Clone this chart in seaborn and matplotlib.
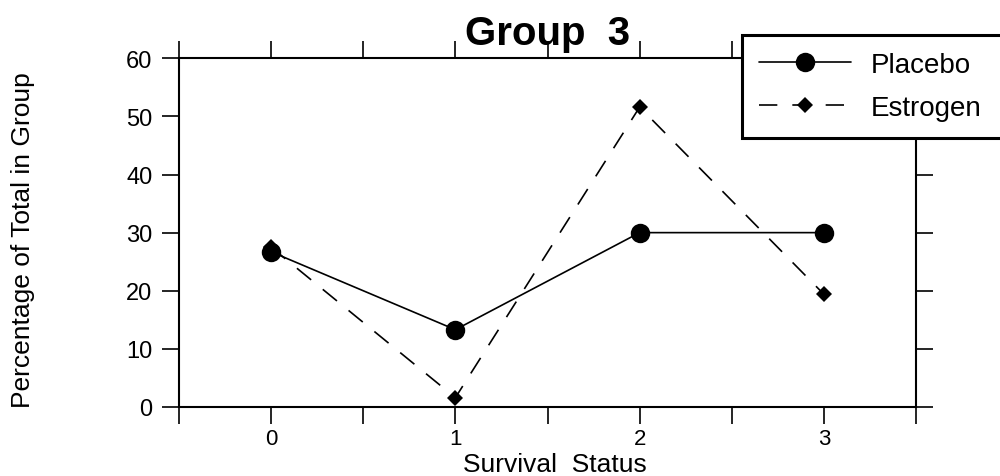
import matplotlib
matplotlib.use("Agg")
import matplotlib.pyplot as plt
import seaborn as sns
import pandas as pd

# ---- data ----
status = [0, 1, 2, 3]
placebo = [26.7, 13.3, 30.0, 30.0]
estrogen = [27.5, 1.6, 51.6, 19.4]
series_names = ["Placebo", "Estrogen"]
y_ticks = [0, 10, 20, 30, 40, 50, 60]
x_ticks = [0, 1, 2, 3]
x_minor = [-0.5, 0.5, 1.5, 2.5, 3.5]

sns.set_style("ticks")
plt.rcParams["font.family"] = ["Liberation Sans", "DejaVu Sans"]
plt.rcParams["text.color"] = "black"
plt.rcParams["axes.labelcolor"] = "black"
plt.rcParams["xtick.color"] = "black"
plt.rcParams["ytick.color"] = "black"

df = pd.DataFrame({
    "status": status * 2,
    "pct": placebo + estrogen,
    "group": [series_names[0]] * 4 + [series_names[1]] * 4,
})

fig = plt.figure(figsize=(10, 4.77), dpi=100)
ax = fig.add_axes([0.179, 0.1447, 0.737, 0.731])

sns.lineplot(data=df[df.group == "Placebo"], x="status", y="pct", ax=ax,
             color="black", marker="o", markersize=14, linewidth=1.2,
             markeredgewidth=0, label="Placebo")
sns.lineplot(data=df[df.group == "Estrogen"], x="status", y="pct", ax=ax,
             color="black", marker="D", markersize=8.5, linewidth=1.2,
             markeredgewidth=0, label="Estrogen")
ax.lines[1].set_dashes((11, 9))

ax.set_xlim(-0.5, 3.5)
ax.set_ylim(0, 60)
ax.set_xticks(x_ticks)
ax.set_xticks(x_minor, minor=True)
ax.set_yticks(y_ticks)
ax.set_xticklabels([str(v) for v in x_ticks], fontsize=16)
ax.set_yticklabels([str(v) for v in y_ticks], fontsize=17)
ax.tick_params(which="both", direction="out", top=True, right=True,
               length=12, width=1.2, color="black")
ax.tick_params(axis="y", pad=7)
ax.tick_params(axis="x", pad=3)
for s in ax.spines.values():
    s.set_linewidth(1.5)
    s.set_color("black")

ax.set_xlabel("Survival  Status", fontsize=19)
ax.xaxis.set_label_coords(0.51, -0.128)
ax.set_ylabel("Percentage of Total in Group", fontsize=19)
ax.yaxis.set_label_coords(-0.196, 0.48)

ax.set_title("Group  3", fontsize=29, fontweight="bold", pad=10)

handles, labels = ax.get_legend_handles_labels()
ax.get_legend().remove()
leg = fig.legend(handles, labels, loc="upper left",
                 bbox_to_anchor=(0.742, 0.925, 0.29, 0.0), mode="expand",
                 fontsize=20, frameon=True, fancybox=False,
                 handlelength=3.3, handletextpad=0.7, borderpad=0.62,
                 labelspacing=0.6, borderaxespad=0)
leg.get_frame().set_edgecolor("black")
leg.get_frame().set_linewidth(2.2)
leg.get_frame().set_alpha(1)

fig.savefig("out.png", dpi=100)
